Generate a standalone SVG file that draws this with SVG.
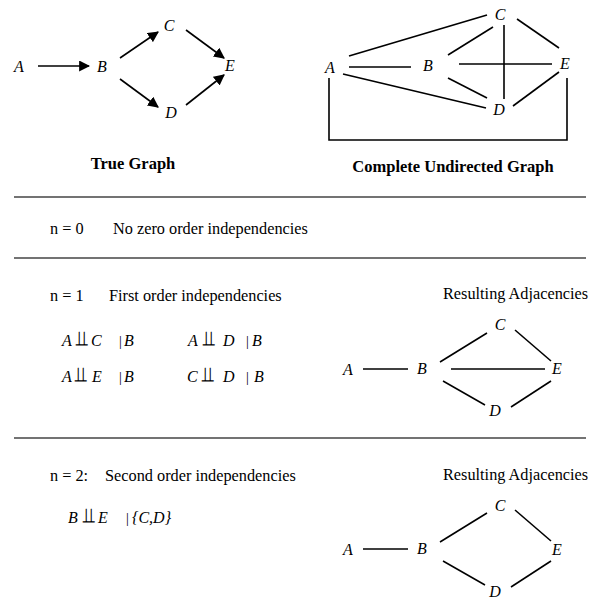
<svg xmlns="http://www.w3.org/2000/svg" width="591" height="601" viewBox="0 0 591 601">
<style>
text{font-family:"Liberation Serif","Times New Roman",serif;fill:#000}
.v{font-style:italic;font-size:16px;text-anchor:middle}
.t{font-size:16.3px}
.b{font-weight:bold;font-size:16.5px;text-anchor:middle}
.m{font-style:italic;font-size:16px}
.bar{font-size:14px}
.sym{font-family:"DejaVu Sans",sans-serif;font-size:21px}
.e line,.e path{stroke:#000;stroke-width:1.6;fill:none}
.rule{stroke:#444;stroke-width:1.6}
</style>
<defs>
<marker id="ah" viewBox="0 0 10 10" refX="9" refY="5" markerWidth="11" markerHeight="11" markerUnits="userSpaceOnUse" orient="auto">
<path d="M0,0 L10,5 L0,10 z" fill="#000"/>
</marker>
</defs>

<g id="rules">
<line class="rule" x1="14" y1="197" x2="586" y2="197"/>
<line class="rule" x1="14" y1="258" x2="586" y2="258"/>
<line class="rule" x1="14" y1="438" x2="586" y2="438"/>
</g>

<!-- True graph -->
<g id="g1-nodes">
<g id="g1-A"><text class="v" x="19" y="72">A</text></g>
<g id="g1-B"><text class="v" x="102" y="72">B</text></g>
<g id="g1-C"><text class="v" x="169" y="31">C</text></g>
<g id="g1-E"><text class="v" x="230" y="71">E</text></g>
<g id="g1-D"><text class="v" x="171" y="118">D</text></g>
</g>
<g id="g1-edges" class="e">
<line x1="38" y1="66" x2="89" y2="66" marker-end="url(#ah)"/>
<line x1="120" y1="58" x2="158" y2="32" marker-end="url(#ah)"/>
<line x1="186" y1="30" x2="224" y2="58" marker-end="url(#ah)"/>
<line x1="120" y1="79" x2="158" y2="107" marker-end="url(#ah)"/>
<line x1="186" y1="105" x2="224" y2="75" marker-end="url(#ah)"/>
</g>
<text class="b" x="133" y="169">True Graph</text>

<!-- Complete undirected graph -->
<g id="g2-nodes">
<g id="g2-A"><text class="v" x="330" y="73">A</text></g>
<g id="g2-B"><text class="v" x="428" y="71">B</text></g>
<g id="g2-C"><text class="v" x="500" y="20">C</text></g>
<g id="g2-E"><text class="v" x="565" y="69">E</text></g>
<g id="g2-D"><text class="v" x="499" y="115">D</text></g>
</g>
<g id="g2-edges" class="e">
<line x1="349" y1="56" x2="487" y2="15"/>
<line x1="349" y1="67" x2="411" y2="67"/>
<line x1="343" y1="74" x2="486" y2="108"/>
<line x1="448" y1="55" x2="493" y2="27"/>
<line x1="459" y1="64" x2="552" y2="64"/>
<line x1="504" y1="25" x2="504" y2="99"/>
<line x1="517" y1="19" x2="559" y2="48"/>
<line x1="448" y1="78" x2="487" y2="98"/>
<line x1="513" y1="106" x2="559" y2="72"/>
<path d="M329,78 V140 H567 V78"/>
</g>
<text class="b" x="453" y="172">Complete Undirected Graph</text>

<!-- n = 0 -->
<text class="t" x="50" y="234">n = 0</text>
<text class="t" x="113" y="234">No zero order independencies</text>

<!-- n = 1 -->
<text class="t" x="50" y="301">n = 1</text>
<text class="t" x="109" y="301">First order independencies</text>

<g id="ind1">
<text class="m" x="62" y="346">A</text><text class="sym" x="76" y="346">⫫</text><text class="m" x="91" y="346">C</text><text class="bar" x="119" y="346">|</text><text class="m" x="124" y="346">B</text>
</g>
<g id="ind2">
<text class="m" x="188" y="346">A</text><text class="sym" x="203" y="346">⫫</text><text class="m" x="223" y="346">D</text><text class="bar" x="246" y="346">|</text><text class="m" x="252" y="346">B</text>
</g>
<g id="ind3">
<text class="m" x="62" y="382">A</text><text class="sym" x="75" y="382">⫫</text><text class="m" x="92" y="382">E</text><text class="bar" x="119" y="382">|</text><text class="m" x="124" y="382">B</text>
</g>
<g id="ind4">
<text class="m" x="187" y="382">C</text><text class="sym" x="202" y="382">⫫</text><text class="m" x="223" y="382">D</text><text class="bar" x="246" y="382">|</text><text class="m" x="254" y="382">B</text>
</g>

<text class="t" x="443" y="299">Resulting Adjacencies</text>
<g id="g3-nodes">
<g id="g3-A"><text class="v" x="348" y="375">A</text></g>
<g id="g3-B"><text class="v" x="422" y="374">B</text></g>
<g id="g3-C"><text class="v" x="500" y="330">C</text></g>
<g id="g3-E"><text class="v" x="557" y="374">E</text></g>
<g id="g3-D"><text class="v" x="495" y="416">D</text></g>
</g>
<g id="g3-edges" class="e">
<line x1="363" y1="369" x2="408" y2="369"/>
<line x1="440" y1="362" x2="487" y2="333"/>
<line x1="515" y1="330" x2="551" y2="361"/>
<line x1="451" y1="369" x2="545" y2="369"/>
<line x1="443" y1="381" x2="485" y2="405"/>
<line x1="511" y1="407" x2="551" y2="381"/>
</g>

<!-- n = 2 -->
<text class="t" x="50" y="481">n = 2:</text>
<text class="t" x="105" y="481">Second order independencies</text>
<g id="ind5">
<text class="m" x="68" y="523">B</text><text class="sym" x="83" y="523">⫫</text><text class="m" x="98" y="523">E</text><text class="bar" x="126" y="523">|</text><text class="m" x="132" y="523">{C,D}</text>
</g>

<text class="t" x="443" y="480">Resulting Adjacencies</text>
<g id="g4-nodes">
<g id="g4-A"><text class="v" x="348" y="555">A</text></g>
<g id="g4-B"><text class="v" x="422" y="554">B</text></g>
<g id="g4-C"><text class="v" x="500" y="511">C</text></g>
<g id="g4-E"><text class="v" x="557" y="555">E</text></g>
<g id="g4-D"><text class="v" x="495" y="597">D</text></g>
</g>
<g id="g4-edges" class="e">
<line x1="363" y1="549" x2="408" y2="549"/>
<line x1="440" y1="542" x2="487" y2="513"/>
<line x1="515" y1="510" x2="551" y2="541"/>
<line x1="443" y1="561" x2="485" y2="585"/>
<line x1="511" y1="587" x2="551" y2="561"/>
</g>
</svg>
